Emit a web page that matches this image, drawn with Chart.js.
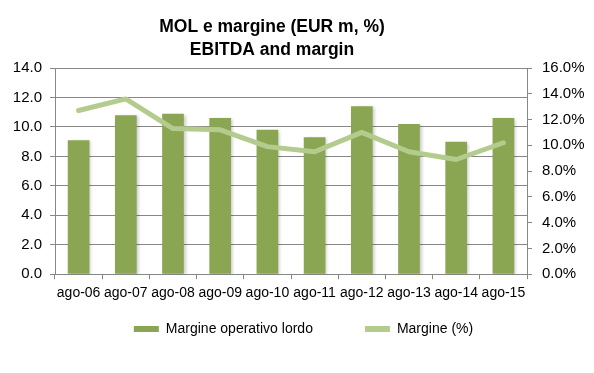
<!DOCTYPE html>
<html>
<head>
<meta charset="utf-8">
<script src="https://cdn.jsdelivr.net/npm/chart.js@4/dist/chart.umd.min.js"></script>
<style>
  html, body { margin: 0; padding: 0; background: #fff; }
  #wrap { width: 594px; height: 373px; }
</style>
</head>
<body>
<div id="wrap"><canvas id="chart" width="594" height="373"></canvas></div>
<script>
  const categories = ['ago-06', 'ago-07', 'ago-08', 'ago-09', 'ago-10', 'ago-11', 'ago-12', 'ago-13', 'ago-14', 'ago-15'];
  const molValues = [9.1, 10.8, 10.9, 10.6, 9.8, 9.3, 11.4, 10.2, 9.0, 10.6];
  const marginPct = [12.7, 13.6, 11.3, 11.2, 9.9, 9.5, 11.0, 9.5, 8.9, 10.2];
  const titleLines = ['MOL e margine (EUR m, %)', 'EBITDA and margin'];

  const BAR = '#8ba652';
  const LINE = '#b4cb8e';
  const GRID = '#878787';
  const FONT = "'Liberation Sans', Arial, sans-serif";

  // soft drop shadow under the bars, like the Excel original
  const barShadow = {
    id: 'barShadow',
    beforeDatasetDraw(chart, args) {
      if (args.index !== 0) return;
      const ctx = chart.ctx;
      ctx.save();
      ctx.shadowColor = 'rgba(0,0,0,0.2)';
      ctx.shadowBlur = 3;
      ctx.shadowOffsetX = 2;
      ctx.shadowOffsetY = 1;
    },
    afterDatasetDraw(chart, args) {
      if (args.index !== 0) return;
      chart.ctx.restore();
    }
  };

  // Excel puts the title a bit left of centre, so draw it by hand
  const chartTitle = {
    id: 'chartTitle',
    afterDraw(chart) {
      const ctx = chart.ctx;
      ctx.save();
      ctx.fillStyle = '#000';
      ctx.font = 'bold 17.5px ' + FONT;
      ctx.textAlign = 'center';
      ctx.textBaseline = 'alphabetic';
      ctx.fillText(titleLines[0], 272, 32);
      ctx.fillText(titleLines[1], 272, 55);
      ctx.restore();
    }
  };

  // legend keeps wide horizontal gaps but sits closer to the axis labels
  const legendLift = {
    id: 'legendLift',
    afterLayout(chart) {
      const lg = chart.legend;
      if (!lg) return;
      lg.top -= 38;
    }
  };

  new Chart(document.getElementById('chart'), {
    data: {
      labels: categories,
      datasets: [{
        type: 'bar',
        label: 'Margine operativo lordo',
        data: molValues,
        backgroundColor: BAR,
        borderWidth: 0,
        barPercentage: 0.46,
        categoryPercentage: 1,
        yAxisID: 'y',
        order: 2
      }, {
        type: 'line',
        label: 'Margine (%)',
        data: marginPct,
        borderColor: LINE,
        backgroundColor: LINE,
        borderWidth: 5,
        borderJoinStyle: 'round',
        borderCapStyle: 'round',
        pointRadius: 0,
        tension: 0,
        yAxisID: 'y1',
        order: 1
      }]
    },
    options: {
      responsive: false,
      animation: false,
      layout: { padding: { left: 13, right: 0, top: 68, bottom: 5 } },
      plugins: {
        title: { display: false },
        legend: {
          position: 'bottom',
          maxHeight: 60,
          labels: {
            color: '#000',
            font: { family: FONT, size: 14 },
            boxWidth: 25,
            boxHeight: 6,
            padding: 52,
            generateLabels(chart) {
              return chart.data.datasets.map((ds, i) => ({
                text: ds.label,
                fillStyle: i === 0 ? BAR : LINE,
                strokeStyle: i === 0 ? BAR : LINE,
                lineWidth: 0,
                hidden: false,
                datasetIndex: i,
                fontColor: '#000'
              }));
            }
          }
        },
        tooltip: { enabled: false }
      },
      scales: {
        x: {
          offset: true,
          grid: { offset: true, drawOnChartArea: false, tickLength: 5, color: GRID },
          border: { color: GRID },
          ticks: { color: '#000', font: { family: FONT, size: 14 }, maxRotation: 0, autoSkip: false, padding: 6 }
        },
        y: {
          position: 'left',
          min: 0,
          max: 14,
          afterFit(s) { s.width = 42; },
          grid: { color: GRID, tickLength: 5 },
          border: { color: GRID },
          ticks: {
            stepSize: 2,
            color: '#000',
            font: { family: FONT, size: 15 },
            padding: 8,
            callback: v => v.toFixed(1)
          }
        },
        y1: {
          position: 'right',
          min: 0,
          max: 16,
          afterFit(s) { s.width = 67; },
          grid: { drawOnChartArea: false, color: GRID, tickLength: 5 },
          border: { color: GRID },
          ticks: {
            stepSize: 2,
            color: '#000',
            font: { family: FONT, size: 15 },
            padding: 10,
            callback: v => v.toFixed(1) + '%'
          }
        }
      }
    },
    plugins: [barShadow, chartTitle, legendLift]
  });
</script>
</body>
</html>
